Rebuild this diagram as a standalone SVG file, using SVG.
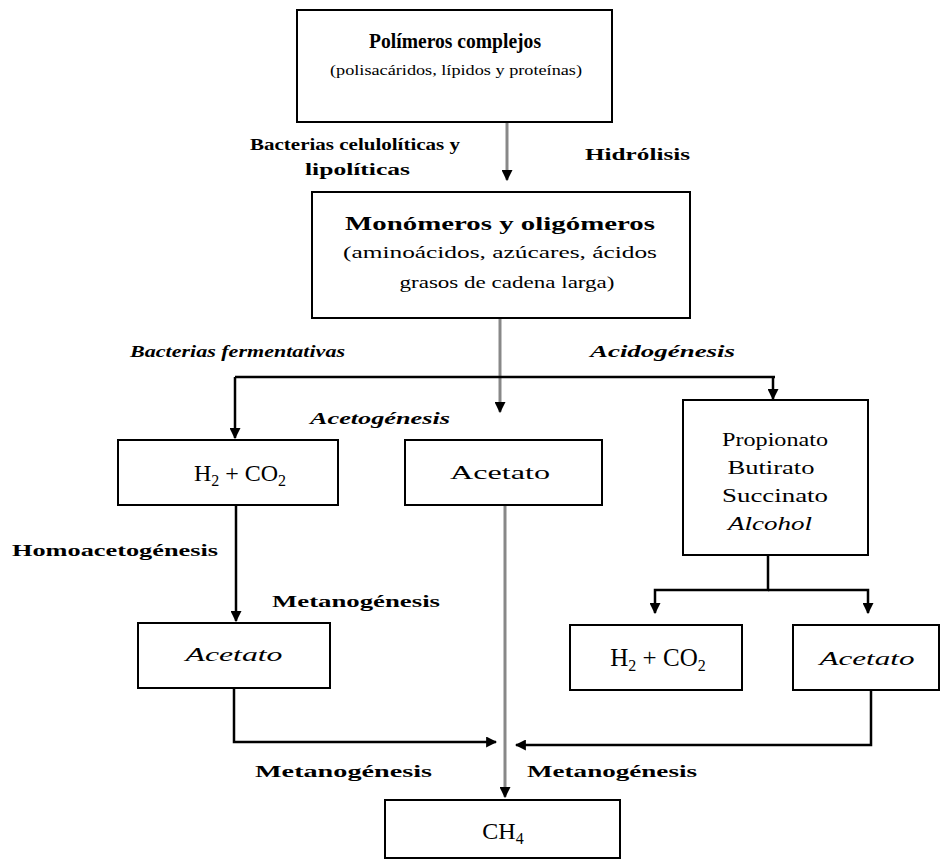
<svg xmlns="http://www.w3.org/2000/svg" width="940" height="862" viewBox="0 0 940 862">
<style>
.box{fill:#fff;stroke:#000;stroke-width:2}
.t{font-family:"Liberation Serif","Times New Roman",serif;fill:#000;text-anchor:middle}
.lb{font-family:"Liberation Serif","Times New Roman",serif;fill:#000;font-size:16px;font-weight:bold}
.it{font-style:italic}
.c{fill:none;stroke:#000;stroke-width:2.5}
.g{fill:none;stroke:#888;stroke-width:3}
</style>
<defs>
<marker id="a" viewBox="0 0 10 10" refX="9" refY="5" markerWidth="11" markerHeight="11" orient="auto" markerUnits="userSpaceOnUse">
<path d="M0,0 L10,5 L0,10 z" fill="#000"/>
</marker>
</defs>
<g id="connectors">
<path class="g" d="M507,122 V180" marker-end="url(#a)"/>
<path class="g" d="M500,318 V412" marker-end="url(#a)"/>
<path class="c" d="M235,377 H775"/>
<path class="c" d="M235,377 V438" marker-end="url(#a)"/>
<path class="c" d="M773,377 V399" marker-end="url(#a)"/>
<path class="c" d="M236,505 V621" marker-end="url(#a)"/>
<path class="g" d="M505,505 V797" marker-end="url(#a)"/>
<path class="c" d="M768,555 V590 H655 V613" marker-end="url(#a)"/>
<path class="c" d="M768,590 H868 V613" marker-end="url(#a)"/>
<path class="c" d="M234,688 V742 H496" marker-end="url(#a)"/>
<path class="c" d="M871,690 V745 H516" marker-end="url(#a)"/>
</g>
<g id="polimeros">
<rect class="box" x="297" y="10" width="315" height="112"/>
<text class="t" x="455" y="48" font-size="20" font-weight="bold" textLength="172" lengthAdjust="spacingAndGlyphs">Polímeros complejos</text>
<text class="t" x="456" y="75" font-size="15" textLength="252" lengthAdjust="spacingAndGlyphs">(polisacáridos, lípidos y proteínas)</text>
</g>
<g id="monomeros">
<rect class="box" x="312" y="192" width="378" height="126"/>
<text class="t" x="500" y="230" font-size="18" font-weight="bold" textLength="310" lengthAdjust="spacingAndGlyphs">Monómeros y oligómeros</text>
<text class="t" x="500" y="258" font-size="16" textLength="314" lengthAdjust="spacingAndGlyphs">(aminoácidos, azúcares, ácidos</text>
<text class="t" x="507" y="288" font-size="16" textLength="215" lengthAdjust="spacingAndGlyphs">grasos de cadena larga)</text>
</g>
<g id="h2co2a">
<rect class="box" x="118" y="440" width="220" height="65"/>
<text class="t" x="240" y="481" font-size="24">H<tspan font-size="16" dy="5">2</tspan><tspan dy="-5"> + CO</tspan><tspan font-size="16" dy="5">2</tspan></text>
</g>
<g id="acetato1">
<rect class="box" x="405" y="440" width="197" height="65"/>
<text class="t" x="500" y="479" font-size="18" textLength="100" lengthAdjust="spacingAndGlyphs">Acetato</text>
</g>
<g id="intermedios">
<rect class="box" x="683" y="400" width="185" height="155"/>
<text class="t" x="775" y="446" font-size="18" textLength="106" lengthAdjust="spacingAndGlyphs">Propionato</text>
<text class="t" x="771" y="474" font-size="18" textLength="87" lengthAdjust="spacingAndGlyphs">Butirato</text>
<text class="t" x="775" y="502" font-size="18" textLength="106" lengthAdjust="spacingAndGlyphs">Succinato</text>
<text class="t it" x="770" y="530" font-size="18" textLength="84" lengthAdjust="spacingAndGlyphs">Alcohol</text>
</g>
<g id="acetato2">
<rect class="box" x="138" y="623" width="192" height="65"/>
<text class="t it" x="234" y="661" font-size="18" textLength="97" lengthAdjust="spacingAndGlyphs">Acetato</text>
</g>
<g id="h2co2b">
<rect class="box" x="570" y="625" width="172" height="65"/>
<text class="t" x="658" y="666" font-size="25">H<tspan font-size="16" dy="5">2</tspan><tspan dy="-5"> + CO</tspan><tspan font-size="16" dy="5">2</tspan></text>
</g>
<g id="acetato3">
<rect class="box" x="793" y="625" width="146" height="65"/>
<text class="t it" x="867" y="665" font-size="18" textLength="95" lengthAdjust="spacingAndGlyphs">Acetato</text>
</g>
<g id="ch4">
<rect class="box" x="385" y="800" width="235" height="58"/>
<text class="t" x="503" y="839" font-size="24">CH<tspan font-size="16" dy="5">4</tspan></text>
</g>
<g id="labels">
<text class="lb" x="250" y="150" textLength="210" lengthAdjust="spacingAndGlyphs">Bacterias celulolíticas y</text>
<text class="lb" x="305" y="175" textLength="105" lengthAdjust="spacingAndGlyphs">lipolíticas</text>
<text class="lb" x="585" y="160" textLength="105" lengthAdjust="spacingAndGlyphs">Hidrólisis</text>
<text class="lb it" x="130" y="357" textLength="215" lengthAdjust="spacingAndGlyphs">Bacterias fermentativas</text>
<text class="lb it" x="590" y="357" textLength="145" lengthAdjust="spacingAndGlyphs">Acidogénesis</text>
<text class="lb it" x="310" y="424" textLength="140" lengthAdjust="spacingAndGlyphs">Acetogénesis</text>
<text class="lb" x="12" y="556" textLength="206" lengthAdjust="spacingAndGlyphs">Homoacetogénesis</text>
<text class="lb" x="272" y="607" textLength="168" lengthAdjust="spacingAndGlyphs">Metanogénesis</text>
<text class="lb" x="255" y="777" textLength="177" lengthAdjust="spacingAndGlyphs">Metanogénesis</text>
<text class="lb" x="527" y="777" textLength="170" lengthAdjust="spacingAndGlyphs">Metanogénesis</text>
</g>
</svg>
